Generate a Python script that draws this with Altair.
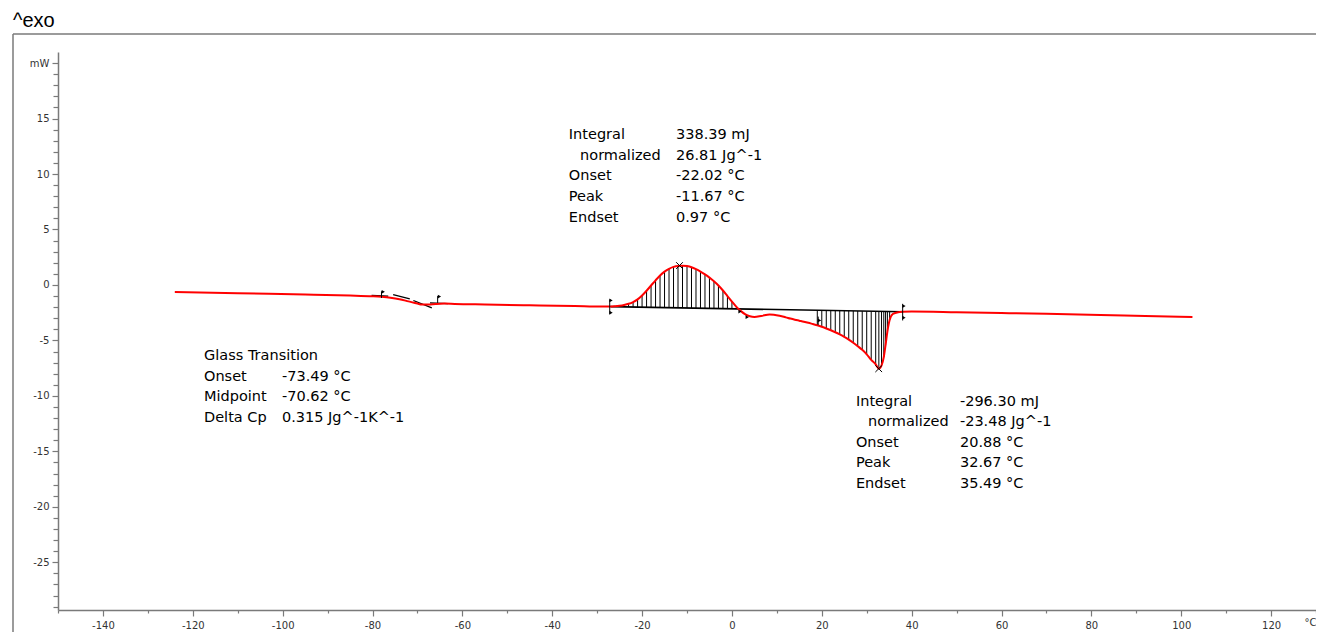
import altair as alt
import pandas as pd

# ---- DSC curve (temperature in °C, heat flow in mW) ----
curve_T = [-124, -110, -95, -85, -80, -78, -76, -74, -72, -70, -69, -67.5, -66, -64, -61.7,
           -55, -45, -35, -29, -27, -26, -25, -24, -23, -22, -21, -20, -19, -18, -17, -16,
           -15, -14, -13, -12, -11, -10, -9, -8, -7, -6, -5, -4, -3, -2, -1, 0, 1, 2, 3, 4,
           5, 6.5, 8.4, 10.6, 12, 13, 14, 15, 16, 17, 18, 19, 20, 21, 22, 23, 24, 25, 26,
           27, 28, 29, 30, 31, 32, 32.7, 33.3, 33.8, 34.2, 34.6, 35.1, 35.8, 37, 38, 40,
           50, 60, 70, 82, 92, 102.5]
curve_mW = [-0.64, -0.74, -0.86, -0.95, -1.02, -1.07, -1.15, -1.28, -1.48, -1.68, -1.76, -1.77,
            -1.72, -1.68, -1.71, -1.76, -1.83, -1.90, -1.95, -1.95, -1.92, -1.87, -1.80, -1.70,
            -1.54, -1.30, -0.95, -0.52, -0.05, 0.42, 0.85, 1.20, 1.46, 1.63, 1.72, 1.74, 1.70,
            1.60, 1.42, 1.20, 0.95, 0.66, 0.33, -0.05, -0.50, -1.00, -1.50, -1.98, -2.36,
            -2.65, -2.82, -2.88, -2.80, -2.66, -2.78, -2.92, -3.03, -3.13, -3.22, -3.31, -3.41,
            -3.52, -3.63, -3.77, -3.92, -4.08, -4.26, -4.46, -4.68, -4.93, -5.21, -5.52, -5.85,
            -6.25, -6.75, -7.15, -7.55, -7.25, -6.50, -5.40, -4.20, -3.15, -2.62, -2.45, -2.42,
            -2.40, -2.46, -2.53, -2.60, -2.70, -2.79, -2.88]

# integration baseline (black)
base_T = [-27, 38]
base_mW = [-1.95, -2.42]
# hatched ranges
exo_range = [-23, 1]
endo_range = [19, 35.2]

# glass-transition construction lines
gt_seg = [1, 1, 2, 2, 3, 3, 4, 4]
gt_T = [-80.2, -76.5, -75.4, -71.7, -70.9, -66.8, -67.2, -63.2]
gt_mW = [-0.93, -1.00, -0.87, -1.26, -1.40, -2.07, -1.62, -1.68]

# evaluation limit flags
flag_T = [-78.0, -65.5, -27.2, 38.0, 19.2]
flag_top = [-0.57, -1.00, -1.30, -1.70, -2.85]
flag_bot = [-1.17, -1.62, -2.65, -3.20, -3.60]
tri_T = [-77.6, -65.1, -26.9, -26.9, 38.3, 38.3, 19.5, 1.8, 3.4]
tri_mW = [-0.62, -1.05, -1.40, -2.50, -1.90, -2.95, -3.20, -2.40, -2.90]

# peak markers
peak_T = [-11.67, 32.67]
peak_mW = [1.75, -7.55]

# result texts
b1_labels = ["Integral", "normalized", "Onset", "Peak", "Endset"]
b1_values = ["338.39 mJ", "26.81 Jg^-1", "-22.02 °C", "-11.67 °C", "0.97 °C"]
b2_labels = ["Integral", "normalized", "Onset", "Peak", "Endset"]
b2_values = ["-296.30 mJ", "-23.48 Jg^-1", "20.88 °C", "32.67 °C", "35.49 °C"]
b3_labels = ["Glass Transition", "Onset", "Midpoint", "Delta Cp"]
b3_values = ["", "-73.49 °C", "-70.62 °C", "0.315 Jg^-1K^-1"]

x_ticks = list(range(-150, 131, 10))
y_ticks = list(range(-29, 21))

# ---- layout of annotations (data coordinates) ----
def block(labels, values, lx, nx, vx, y0, dy=1.85):
    rows = []
    for i, (l, v) in enumerate(zip(labels, values)):
        y = y0 - i * dy
        rows.append({"T": nx if l == "normalized" else lx, "mW": y, "t": l})
        if v:
            rows.append({"T": vx, "mW": y, "t": v})
    return rows

txt = (block(b1_labels, b1_values, -36.3, -33.8, -12.45, 13.48)
       + block(b2_labels, b2_values, 27.6, 30.3, 50.75, -10.53)
       + block(b3_labels, b3_values, -117.5, -117.5, -100.15, -6.44))
txt_df = pd.DataFrame(txt)

curve_df = pd.DataFrame({"T": curve_T, "mW": curve_mW})
base_df = pd.DataFrame({"T": base_T, "mW": base_mW})
gt_df = pd.DataFrame({"seg": gt_seg, "T": gt_T, "mW": gt_mW})
flag_df = pd.DataFrame({"T": flag_T, "a": flag_top, "b": flag_bot})
tri_df = pd.DataFrame({"T": tri_T, "mW": tri_mW})
peak_df = pd.DataFrame({"T": peak_T, "mW": peak_mW})
one = pd.DataFrame({"a": [0]})

AX = "#7a7a7a"
FONT = "DejaVu Sans"

xs = alt.Scale(domain=[-150, 130], nice=False, zero=False)
ys = alt.Scale(domain=[-29.3, 21], nice=False, zero=False)

x_axis = alt.Axis(values=x_ticks, tickCount=200, title=None, grid=False,
                  labelExpr="datum.value == 130 ? '°C' : (datum.value % 20 == 0 ? '' + datum.value : '')",
                  tickSize={"condition": {"test": "datum.value % 20 == 0", "value": 6}, "value": 3},
                  domainColor=AX, domainWidth=1.5, tickColor=AX, tickWidth=1.2,
                  labelColor="#333333", labelFont=FONT, labelFontSize=10, labelPadding=4,
                  labelFlush=True, labelOverlap=False, labelBound=False)
y_axis = alt.Axis(values=y_ticks, tickCount=200, title=None, grid=False,
                  labelExpr="datum.value == 20 ? 'mW' : (datum.value % 5 == 0 ? '' + datum.value : '')",
                  tickSize={"condition": {"test": "datum.value % 5 == 0", "value": 6}, "value": 5},
                  domainColor=AX, domainWidth=1.5, tickColor=AX, tickWidth=1.2,
                  labelColor="#333333", labelFont=FONT, labelFontSize=10, labelPadding=3,
                  labelOverlap=False, labelBound=False, labelFlush=False)

X = alt.X("T:Q", scale=xs, axis=x_axis)
Y = alt.Y("mW:Q", scale=ys, axis=y_axis)
Xn = alt.X("T:Q", scale=xs)
Yn = alt.Y("mW:Q", scale=ys)

b0, b1 = base_mW
t0, t1 = base_T
base_expr = f"{b0} + (datum.T - ({t0})) * ({b1 - b0}) / ({t1 - t0})"

hatch = alt.Chart(curve_df).transform_filter(
    f"(datum.T >= {exo_range[0]} && datum.T <= {exo_range[1]}) || "
    f"(datum.T >= {endo_range[0]} && datum.T <= {endo_range[1]})"
).transform_calculate(base=base_expr).mark_rule(color="black", strokeWidth=1).encode(
    x=Xn, y=Yn, y2="base:Q")

baseline = alt.Chart(base_df).mark_line(color="black", strokeWidth=1.6).encode(x=Xn, y=Yn)

curve = alt.Chart(curve_df).mark_line(color="#ff0000", strokeWidth=2, interpolate="monotone").encode(
    x=X, y=Y)

gt = alt.Chart(gt_df).mark_line(color="black", strokeWidth=1.3).encode(x=Xn, y=Yn, detail="seg:N")

flags = alt.Chart(flag_df).mark_rule(color="black", strokeWidth=1).encode(
    x=Xn, y=alt.Y("a:Q", scale=ys), y2="b:Q")
tris = alt.Chart(tri_df).mark_point(shape="triangle-right", filled=True, color="black",
                                    size=14, opacity=1).encode(x=Xn, y=Yn)
peaks = alt.Chart(peak_df).mark_point(shape="M-1,-1L1,1M-1,1L1,-1", filled=False, color="black",
                                      strokeWidth=1, size=45, opacity=1).encode(x=Xn, y=Yn)

texts = alt.Chart(txt_df).mark_text(align="left", baseline="middle", font=FONT, fontSize=14.5,
                                    color="black").encode(x=Xn, y=Yn, text="t:N")

frame_top = alt.Chart(one).mark_rule(color=AX, strokeWidth=1.5).encode(
    x=alt.value(-45), x2=alt.value(1270), y=alt.value(-18))
frame_left = alt.Chart(one).mark_rule(color=AX, strokeWidth=1.5).encode(
    x=alt.value(-45), y=alt.value(-18), y2=alt.value(600))
title = alt.Chart(one).mark_text(align="left", baseline="alphabetic", font="Liberation Sans",
                                 fontSize=20, color="black").encode(
    x=alt.value(-45), y=alt.value(-25), text=alt.value("^exo"))

chart = alt.layer(frame_top, frame_left, title, hatch, baseline, gt, curve, flags, tris, peaks,
                  texts).properties(
    width=1258, height=558,
    padding={"left": 50, "top": 44, "right": 0, "bottom": 22},
    autosize=alt.AutoSizeParams(type="none"),
).configure_view(strokeWidth=0)

chart.save("out.html", embed_options={"renderer": "svg", "actions": False})
